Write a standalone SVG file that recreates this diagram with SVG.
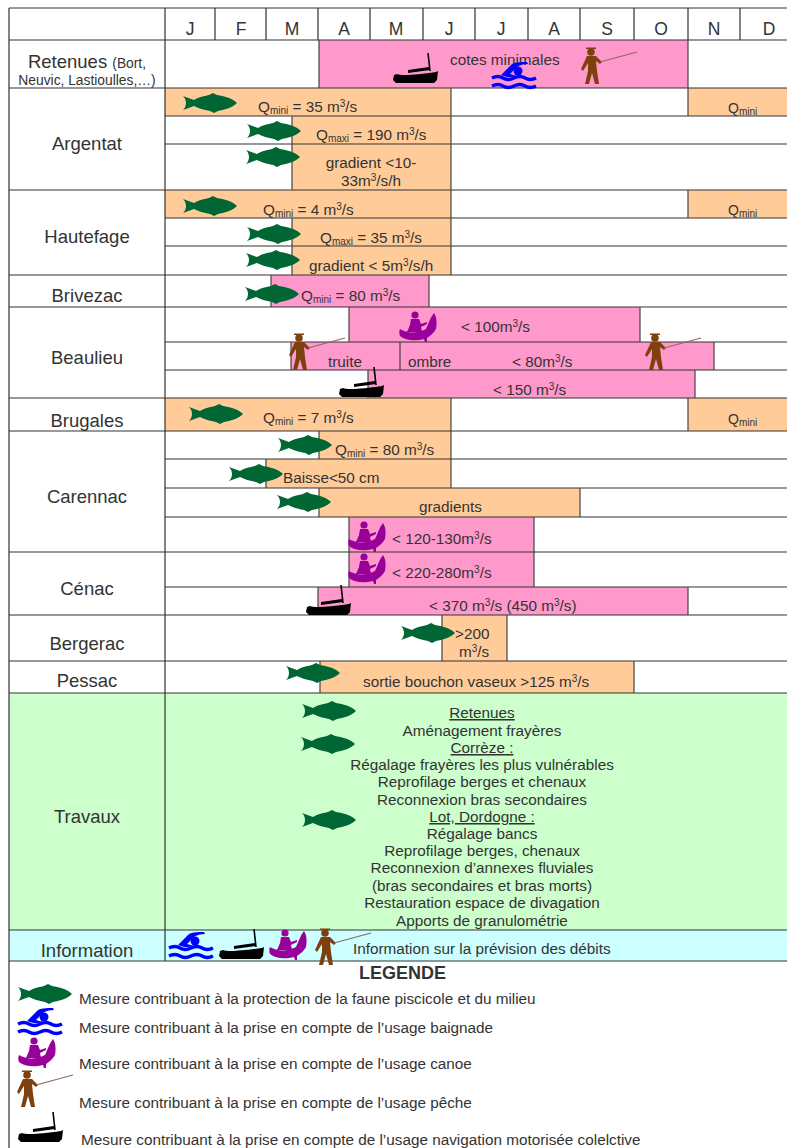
<svg xmlns="http://www.w3.org/2000/svg" width="787" height="1148" viewBox="0 0 787 1148">
<style>
text{font-family:"Liberation Sans",Arial,sans-serif;fill:#333;font-size:15.3px}
.m{font-size:17.5px;text-anchor:middle}
.n{font-size:18.5px;text-anchor:middle}
.c{text-anchor:middle}
.q{font-size:14px}
.s{font-size:10px}
.o{fill:#ffcc99}.p{fill:#ff99cc}
.b{stroke:#444;stroke-width:1.2;fill:none}
.g{stroke:#333;stroke-width:1.2;fill:none}
</style>
<defs>
<g id="fish"><path fill="#006633" d="M-27-7L-16-3C-10-7-4-7-1-8L3-10 7-8C14-7 22-5 27 0 22 5 14 7 8 8L4 10 0 8C-6 7-12 5-16 3L-27 7C-23 3-23-3-27-7Z"/></g>
<g id="boat"><path fill="#000" d="M-22 7L-19 6C-15 8 0 7 20 4L22 3 21 12 18 15H-20L-23 12Z"/><path fill="#000" d="M-8 2L13-1 14 2-8 5Z"/><path stroke="#000" stroke-width="1.6" fill="none" d="M12-15L14 3"/></g>
<g id="swim"><circle cx="4" cy="-4" r="4.5" fill="#0000ff"/><path fill="#0000ff" d="M-13 0L-3-10C0-13 6-13 13-13L14-11C6-11 2-8-1-4L-4-1 3 1C-3 3-8 2-13 0Z"/><path fill="none" stroke="#0000ff" stroke-width="3.5" d="M-22 3Q-16 0-11 3T0 3 11 3 22 3M-22 11Q-16 8-11 11T0 11 11 11 22 11"/></g>
<g id="canoe"><circle cx="-3" cy="-12" r="3.6" fill="#990099"/><path fill="#990099" d="M-7-8H1L3-3 9-5V-3L3 0 4 5H-11L-8-2ZM-18 2C-10 7 0 6 8 2 11-4 12-9 16-14 19-10 19-3 18 2 16 6 12 9 9 11L9 15 7 15 6 12C-2 14-12 14-18 9-19 7-19 4-18 2Z"/></g>
<g id="fisher"><circle cx="-1" cy="-13" r="3.8" fill="#7f4010"/><path fill="#7f4010" d="M-6-17.500H4V-16H-6ZM-5-9H4L10-3 8-1 4-4 5 6 7 19H3L0 8-3 19H-7L-4 6-4-2-9 6-11 4Z"/><path stroke="#8a6a60" stroke-width="1.2" d="M8-3L45-13"/></g>
</defs>
<rect width="787" height="1148" fill="#fff"/>
<g id="bars">
<rect class="p" x="319" y="40" width="369" height="48"/>
<rect class="o" x="165" y="88" width="286" height="28"/><rect class="o" x="688" y="88" width="99" height="28"/>
<rect class="o" x="292" y="116" width="159" height="74"/>
<rect class="o" x="165" y="190" width="286" height="28"/><rect class="o" x="688" y="190" width="99" height="28"/>
<rect class="o" x="292" y="218" width="159" height="57"/>
<rect class="p" x="271" y="275" width="158" height="32"/>
<rect class="p" x="349" y="307" width="291" height="35"/>
<rect class="p" x="291" y="342" width="423" height="28"/>
<rect class="p" x="368" y="370" width="327" height="28"/>
<rect class="o" x="165" y="398" width="286" height="33"/><rect class="o" x="688" y="398" width="99" height="33"/>
<rect class="o" x="319" y="431" width="132" height="28"/>
<rect class="o" x="266" y="459" width="185" height="29"/>
<rect class="o" x="319" y="488" width="261" height="29"/>
<rect class="p" x="349" y="517" width="185" height="70"/>
<rect class="p" x="318" y="587" width="370" height="28"/>
<rect class="o" x="442" y="615" width="65" height="46"/>
<rect class="o" x="320" y="661" width="314" height="32"/>
<rect x="9" y="693" width="778" height="237" fill="#ccffcc"/>
<rect x="9" y="930" width="778" height="31" fill="#ccffff"/>
</g>
<g id="grid">
<path class="g" d="M9 8H787M9 40H787M9 88H787M9 190H787M9 275H787M9 307H787M9 398H787M9 431H787M9 552H787M9 615H787M9 661H787M9 693H787M9 930H787M9 961H787M165 116H787M165 144H787M165 218H787M165 246H787M165 342H787M165 370H787M165 459H787M165 488H787M165 517H787M165 587H787"/>
<path class="g" d="M9 8V1148M165 8V961M215 8V40M266 8V40M318 8V40M370 8V40M423 8V40M475 8V40M528 8V40M580 8V40M634 8V40M688 8V40M740 8V40"/>
<path class="b" d="M319 40V88M688 40V116M451 88V190M292 116V190M688 190V218M451 190V275M292 218V275M271 275V307M429 275V307M349 307V342M640 307V342M291 342V370M400 342V370M714 342V370M368 370V398M695 370V398M451 398V488M688 398V431M266 459V488M319 431V459M319 488V517M580 488V517M349 517V587M534 517V587M318 587V615M688 587V615M442 615V661M507 615V661M320 661V693M634 661V693"/>
</g>
<g id="header">
<text class="m" x="190" y="35">J</text><text class="m" x="241" y="35">F</text><text class="m" x="292" y="35">M</text><text class="m" x="344" y="35">A</text><text class="m" x="396" y="35">M</text><text class="m" x="449" y="35">J</text><text class="m" x="501" y="35">J</text><text class="m" x="554" y="35">A</text><text class="m" x="607" y="35">S</text><text class="m" x="661" y="35">O</text><text class="m" x="714" y="35">N</text><text class="m" x="769" y="35">D</text>
</g>
<g id="retenues">
<text class="n" x="87" y="68">Retenues <tspan style="font-size:13.800px">(Bort,</tspan></text><text class="c" style="font-size:13.800px" x="87" y="85">Neuvic, Lastioulles,…)</text>
<use href="#boat" x="416" y="68"/><text x="450" y="65">cotes minimales</text><use href="#swim" x="514" y="75"/><use href="#fisher" x="592" y="65"/>
</g>
<g id="argentat">
<text class="n" x="87" y="150">Argentat</text>
<use href="#fish" x="210" y="103"/><text x="258" y="112">Q<tspan class="s" dy="2">mini</tspan><tspan dy="-2"> = 35 m</tspan><tspan class="s" dy="-5">3</tspan><tspan dy="5">/s</tspan></text><text class="q" x="728" y="113">Q<tspan class="s" dy="2">mini</tspan></text>
<use href="#fish" x="274" y="131"/><text x="316" y="140">Q<tspan class="s" dy="2">maxi</tspan><tspan dy="-2"> = 190 m</tspan><tspan class="s" dy="-5">3</tspan><tspan dy="5">/s</tspan></text>
<use href="#fish" x="273" y="157"/><text class="c" x="371" y="168">gradient &lt;10-</text><text class="c" x="371" y="186">33m<tspan class="s" dy="-5">3</tspan><tspan dy="5">/s/h</tspan></text>
</g>
<g id="hautefage">
<text class="n" x="87" y="243">Hautefage</text>
<use href="#fish" x="210" y="206"/><text x="263" y="215">Q<tspan class="s" dy="2">mini</tspan><tspan dy="-2"> = 4 m</tspan><tspan class="s" dy="-5">3</tspan><tspan dy="5">/s</tspan></text><text class="q" x="728" y="215">Q<tspan class="s" dy="2">mini</tspan></text>
<use href="#fish" x="274" y="234"/><text x="320" y="243">Q<tspan class="s" dy="2">maxi</tspan><tspan dy="-2"> = 35 m</tspan><tspan class="s" dy="-5">3</tspan><tspan dy="5">/s</tspan></text>
<use href="#fish" x="273" y="260"/><text x="309" y="271">gradient &lt; 5m<tspan class="s" dy="-5">3</tspan><tspan dy="5">/s/h</tspan></text>
</g>
<g id="brivezac">
<text class="n" x="87" y="302">Brivezac</text>
<use href="#fish" x="272" y="294"/><text x="301" y="301">Q<tspan class="s" dy="2">mini</tspan><tspan dy="-2"> = 80 m</tspan><tspan class="s" dy="-5">3</tspan><tspan dy="5">/s</tspan></text>
</g>
<g id="beaulieu">
<text class="n" x="87" y="364">Beaulieu</text>
<use href="#canoe" x="418" y="327"/><text x="461" y="332">&lt; 100m<tspan class="s" dy="-5">3</tspan><tspan dy="5">/s</tspan></text>
<use href="#fisher" x="300" y="351"/><text x="328" y="367">truite</text><text x="408" y="367">ombre</text><text x="512" y="367">&lt; 80m<tspan class="s" dy="-5">3</tspan><tspan dy="5">/s</tspan></text><use href="#fisher" x="656" y="351"/>
<use href="#boat" x="362" y="382"/><text x="493" y="395">&lt; 150  m<tspan class="s" dy="-5">3</tspan><tspan dy="5">/s</tspan></text>
</g>
<g id="brugales">
<text class="n" x="87" y="427">Brugales</text>
<use href="#fish" x="216" y="414"/><text x="263" y="423">Q<tspan class="s" dy="2">mini</tspan><tspan dy="-2"> = 7 m</tspan><tspan class="s" dy="-5">3</tspan><tspan dy="5">/s</tspan></text><text class="q" x="728" y="424">Q<tspan class="s" dy="2">mini</tspan></text>
</g>
<g id="carennac">
<text class="n" x="87" y="503">Carennac</text>
<use href="#fish" x="305" y="445"/><text x="335" y="455">Q<tspan class="s" dy="2">mini</tspan><tspan dy="-2"> = 80 m</tspan><tspan class="s" dy="-5">3</tspan><tspan dy="5">/s</tspan></text>
<use href="#fish" x="256" y="474"/><text x="283" y="483">Baisse&lt;50 cm</text>
<use href="#fish" x="304" y="502"/><text x="419" y="512">gradients</text>
<use href="#canoe" x="367" y="537"/><text x="392" y="544">&lt; 120-130m<tspan class="s" dy="-5">3</tspan><tspan dy="5">/s</tspan></text>
</g>
<g id="cenac">
<text class="n" x="87" y="595">Cénac</text>
<use href="#canoe" x="367" y="569"/><text x="392" y="578">&lt; 220-280m<tspan class="s" dy="-5">3</tspan><tspan dy="5">/s</tspan></text>
<use href="#boat" x="329" y="600"/><text x="429" y="611">&lt; 370 m<tspan class="s" dy="-5">3</tspan><tspan dy="5">/s (450 m</tspan><tspan class="s" dy="-5">3</tspan><tspan dy="5">/s)</tspan></text>
</g>
<g id="bergerac">
<text class="n" x="87" y="650">Bergerac</text>
<use href="#fish" x="428" y="633"/><text x="455" y="639">&gt;200</text><text x="459" y="657">m<tspan class="s" dy="-5">3</tspan><tspan dy="5">/s</tspan></text>
</g>
<g id="pessac">
<text class="n" x="87" y="687">Pessac</text>
<use href="#fish" x="313" y="673"/><text x="363" y="687">sortie bouchon vaseux &gt;125 m<tspan class="s" dy="-5">3</tspan><tspan dy="5">/s</tspan></text>
</g>
<g id="travaux">
<text class="n" x="87" y="823">Travaux</text>
<use href="#fish" x="329" y="711"/><use href="#fish" x="328" y="744"/><use href="#fish" x="329" y="820"/>
<text class="c" x="482" y="718" text-decoration="underline">Retenues</text>
<text class="c" x="482" y="736">Aménagement frayères</text>
<text class="c" x="482" y="753" text-decoration="underline">Corrèze :</text>
<text class="c" x="482" y="770">Régalage frayères les plus vulnérables</text>
<text class="c" x="482" y="787">Reprofilage berges et chenaux</text>
<text class="c" x="482" y="805">Reconnexion bras secondaires</text>
<text class="c" x="482" y="822" text-decoration="underline">Lot, Dordogne :</text>
<text class="c" x="482" y="839">Régalage bancs</text>
<text class="c" x="482" y="856">Reprofilage berges, chenaux</text>
<text class="c" x="482" y="873">Reconnexion d’annexes fluviales</text>
<text class="c" x="482" y="891">(bras secondaires et bras morts)</text>
<text class="c" x="482" y="908">Restauration espace de divagation</text>
<text class="c" x="482" y="926">Apports de granulométrie</text>
</g>
<g id="information">
<text class="n" x="87" y="957">Information</text>
<use href="#swim" x="191" y="945"/><use href="#boat" x="242" y="944"/><use href="#canoe" x="288" y="945"/><use href="#fisher" x="326" y="946"/>
<text x="353" y="954">Information sur la prévision des débits</text>
</g>
<g id="legende">
<text x="359" y="979" font-weight="bold" style="font-size:18px">LEGENDE</text>
<use href="#fish" x="45" y="994"/><text x="79" y="1004">Mesure contribuant à la protection de la faune piscicole et du milieu</text>
<use href="#swim" x="40" y="1021"/><text x="79" y="1033">Mesure contribuant à la prise en compte de l’usage baignade</text>
<use href="#canoe" x="37" y="1053"/><text x="79" y="1069">Mesure contribuant à la prise en compte de l’usage canoe</text>
<use href="#fisher" x="28" y="1088"/><text x="79" y="1108">Mesure contribuant à la prise en compte de l’usage pêche</text>
<use href="#boat" x="41" y="1127"/><text x="81" y="1145">Mesure contribuant à la prise en compte de l’usage navigation motorisée colelctive</text>
</g>
</svg>
